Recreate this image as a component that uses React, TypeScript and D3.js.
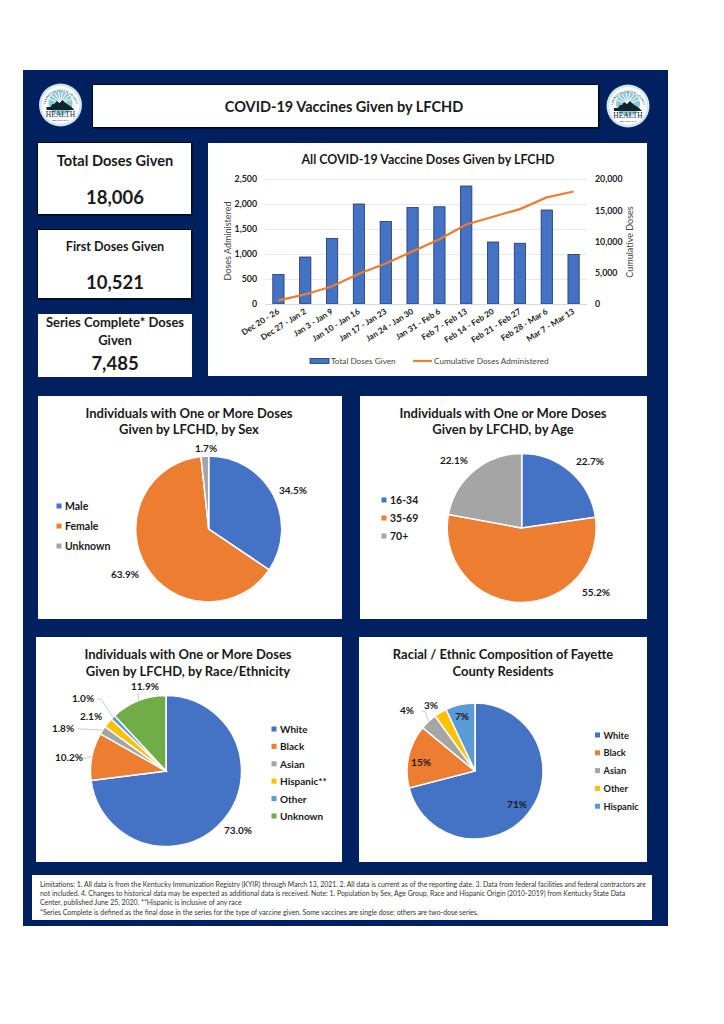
import * as d3 from 'd3';
import React, { useEffect, useRef } from 'react';

const weeks = ['Dec 20 - 26', 'Dec 27 - Jan 2', 'Jan 3 - Jan 9', 'Jan 10 - Jan 16', 'Jan 17 - Jan 23', 'Jan 24 - Jan 30', 'Jan 31 - Feb 6', 'Feb 7 - Feb 13', 'Feb 14 - Feb 20', 'Feb 21 - Feb 27', 'Feb 28 - Mar 6', 'Mar 7 - Mar 13'];
const weeklyDoses = [590, 940, 1310, 2000, 1650, 1930, 1945, 2360, 1240, 1215, 1880, 990];
const cumulativeDoses = [590, 1530, 2840, 4840, 6490, 8420, 10365, 12725, 13965, 15180, 17060, 18006];

const sexCats = ['Male', 'Female', 'Unknown'];
const sexVals = [34.5, 63.9, 1.7];
const ageCats = ['16-34', '35-69', '70+'];
const ageVals = [22.7, 55.2, 22.1];
const raceCats = ['White', 'Black', 'Asian', 'Hispanic**', 'Other', 'Unknown'];
const raceVals = [73.0, 10.2, 1.8, 2.1, 1.0, 11.9];
const fayetteCats = ['White', 'Black', 'Asian', 'Other', 'Hispanic'];
const fayetteVals = [71, 15, 4, 3, 7];

const NAVY = '#002060';
const FONT = 'Lato, sans-serif';
const office = ['#4472C4', '#ED7D31', '#A5A5A5', '#FFC000', '#5B9BD5', '#70AD47'];
const fayetteColors = ['#4472C4', '#ED7D31', '#A5A5A5', '#FFC000', '#5B9BD5'];

type Sel = d3.Selection<any, unknown, null, undefined>;

function box(svg: Sel, x: number, y: number, w: number, h: number, shadow = false) {
  if (shadow) svg.append('rect').attr('x', x - 1).attr('y', y - 1).attr('width', w + 2.5).attr('height', h + 2.5).attr('fill', '#000814');
  svg.append('rect').attr('x', x).attr('y', y).attr('width', w).attr('height', h).attr('fill', '#fff');
}

function label(svg: Sel, s: string, x: number, y: number, size: number, weight = 700, anchor = 'middle', fill = '#1a1a1a') {
  return svg.append('text').attr('x', x).attr('y', y).attr('text-anchor', anchor)
    .attr('dominant-baseline', 'central')
    .attr('font-family', FONT).attr('font-size', size).attr('font-weight', weight).attr('fill', fill).text(s);
}

function logo(svg: Sel, cx: number, cy: number, id: string) {
  const g = svg.append('g').attr('transform', `translate(${cx},${cy})`);
  g.append('circle').attr('r', 21.5).attr('fill', '#cfe6ee');
  g.append('circle').attr('r', 19).attr('fill', '#fff');
  g.append('circle').attr('r', 12).attr('cy', -2).attr('fill', '#8ccbd6');
  d3.range(-70, 71, 20).forEach(a => {
    g.append('line').attr('x1', 0).attr('y1', -2).attr('x2', 12 * Math.sin(a * Math.PI / 180)).attr('y2', -2 - 12 * Math.cos(a * Math.PI / 180))
      .attr('stroke', '#fff').attr('stroke-width', 1);
  });
  g.append('path').attr('id', id).attr('d', 'M-15.5 2 A15.5 15.5 0 0 1 15.5 2').attr('fill', 'none');
  g.append('text').attr('font-family', FONT).attr('font-size', 2.9).attr('font-weight', 700).attr('fill', '#3a6d80')
    .append('textPath').attr('href', `#${id}`).attr('startOffset', '50%').attr('text-anchor', 'middle').text('LEXINGTON FAYETTE COUNTY');
  g.append('path').attr('d', 'M-14 5 L-14 2 L-10 2 L-8 -1 L-6 -1 L-4 -4 L-1 -2 L2 -5 L5 -2 L8 0 L11 2 L14 5 Z').attr('fill', '#10222b');
  g.append('text').attr('y', 12).attr('text-anchor', 'middle').attr('font-family', 'Liberation Serif, serif').attr('font-size', 7.5).attr('fill', '#223').text('HEALTH');
  g.append('text').attr('y', 16).attr('text-anchor', 'middle').attr('font-family', FONT).attr('font-size', 2.5).attr('fill', '#223').text('DEPARTMENT');
}

interface PieOpts {
  cats: string[]; vals: number[]; colors: string[]; decimals: number;
  cx: number; cy: number; r: number;
  title: string[]; titleX: number; titleY: number;
  legendX: number; legendY: number; legendStep: number; legendSize: number;
  labelAt: [number, number][]; leaders?: (string | null)[];
}

function drawPie(svg: Sel, o: PieOpts) {
  const g = svg.append('g').attr('transform', `translate(${o.cx},${o.cy})`);
  const arcs = d3.pie<number>().sort(null)(o.vals);
  const arc = d3.arc<d3.PieArcDatum<number>>().innerRadius(0).outerRadius(o.r);
  const edge = d3.arc<d3.PieArcDatum<number>>().innerRadius(o.r).outerRadius(o.r);
  g.selectAll('path.slice').data(arcs).enter().append('path')
    .attr('class', 'slice')
    .attr('d', arc)
    .attr('fill', (_d, i) => o.colors[i])
    .attr('stroke', '#fff').attr('stroke-width', 1.5);

  o.title.forEach((t, i) => label(svg, t, o.titleX, o.titleY + i * 16.7, 13));

  arcs.forEach((a, i) => {
    const [lx, ly] = o.labelAt[i];
    const kind = o.leaders ? o.leaders[i] : null;
    if (kind) {
      const [ex, ey] = edge.centroid(a);
      const tx = ex + o.cx;
      const ty = ey + o.cy;
      const pts = kind === 'below'
        ? `${lx - 7},${ly + 7} ${tx},${ty}`
        : `${lx + 14},${ly + 1} ${lx + 18},${ly + 1} ${tx},${ty}`;
      svg.append('polyline').attr('points', pts)
        .attr('fill', 'none').attr('stroke', '#bfbfbf').attr('stroke-width', 0.8);
    }
    const v = o.decimals ? o.vals[i].toFixed(o.decimals) : String(o.vals[i]);
    label(svg, `${v}%`, lx, ly, 10);
  });

  o.cats.forEach((c, i) => {
    const y = o.legendY + i * o.legendStep;
    svg.append('rect').attr('x', o.legendX).attr('y', y - 2.5).attr('width', 5).attr('height', 5).attr('fill', o.colors[i]);
    label(svg, c, o.legendX + 8.5, y, o.legendSize, 700, 'start');
  });
}

const App: React.FC = () => {
  const ref = useRef<SVGSVGElement | null>(null);

  useEffect(() => {
    const svg = d3.select(ref.current) as unknown as Sel;
    svg.selectAll('*').remove();

    svg.append('rect').attr('width', 724).attr('height', 1024).attr('fill', '#fff');
    svg.append('rect').attr('x', 23).attr('y', 70).attr('width', 645).attr('height', 856).attr('fill', NAVY);

    // header
    logo(svg, 60.5, 105, 'logoArcL');
    logo(svg, 628, 106, 'logoArcR');
    box(svg, 93, 85, 505, 42, true);
    label(svg, 'COVID-19 Vaccines Given by LFCHD', 344, 106, 14.5);

    // number cards
    box(svg, 38, 143, 153, 71, true);
    label(svg, 'Total Doses Given', 115, 160, 14.6);
    label(svg, '18,006', 115, 197, 18.5);
    box(svg, 38, 230, 153, 68, true);
    label(svg, 'First Doses Given', 115, 246, 12.6);
    label(svg, '10,521', 115, 282, 18.5);
    box(svg, 38, 314, 154, 63);
    label(svg, 'Series Complete* Doses', 115, 322, 13);
    label(svg, 'Given', 115, 340, 13);
    label(svg, '7,485', 115, 363, 18.5);

    // weekly doses + cumulative line
    box(svg, 208, 143, 439, 233);
    label(svg, 'All COVID-19 Vaccine Doses Given by LFCHD', 428, 159, 12.4);

    const x = d3.scaleBand<string>().domain(weeks).range([265, 587]).paddingInner(0.58).paddingOuter(0.29);
    const yL = d3.scaleLinear().domain([0, 2500]).range([304, 179]);
    const yR = d3.scaleLinear().domain([0, 20000]).range([304, 179]);

    const gridAxis = svg.append('g').attr('transform', 'translate(265,0)')
      .call(d3.axisLeft(yL).tickValues([0, 500, 1000, 1500, 2000, 2500]).tickSize(-322).tickFormat(d3.format(',') as any));
    gridAxis.select('.domain').remove();
    gridAxis.selectAll('.tick line').attr('stroke', '#e3e3e3').attr('stroke-width', 0.8);
    gridAxis.selectAll('.tick text').attr('x', -8).attr('font-family', FONT).attr('font-size', 8.8).attr('font-weight', 700).attr('fill', '#222');

    const rightAxis = svg.append('g').attr('transform', 'translate(587,0)')
      .call(d3.axisRight(yR).tickValues([0, 5000, 10000, 15000, 20000]).tickSize(0).tickFormat(d3.format(',') as any));
    rightAxis.select('.domain').remove();
    rightAxis.selectAll('.tick text').attr('x', 8).attr('font-family', FONT).attr('font-size', 8.8).attr('font-weight', 700).attr('fill', '#222');

    svg.append('g').selectAll('rect').data(weeklyDoses).enter().append('rect')
      .attr('x', (_d, i) => x(weeks[i]) as number)
      .attr('y', d => yL(d))
      .attr('width', x.bandwidth())
      .attr('height', d => 304 - yL(d))
      .attr('fill', '#4472C4').attr('stroke', '#203864').attr('stroke-width', 0.8);

    const line = d3.line<number>()
      .x((_d, i) => (x(weeks[i]) as number) + x.bandwidth() / 2)
      .y(d => yR(d));
    svg.append('path').attr('d', line(cumulativeDoses)).attr('fill', 'none').attr('stroke', '#ED7D31').attr('stroke-width', 2.2);

    const bottomAxis = svg.append('g').attr('transform', 'translate(0,304)').call(d3.axisBottom(x).tickSize(0));
    bottomAxis.select('.domain').attr('stroke', '#d9d9d9');
    bottomAxis.selectAll('.tick text')
      .attr('font-family', FONT).attr('font-size', 8.2).attr('font-weight', 700).attr('fill', '#222')
      .attr('text-anchor', 'end').attr('dy', '0.3em').attr('x', -3.5).attr('y', 6)
      .attr('transform', 'rotate(-32)');

    label(svg, 'Doses Administered', 227, 241, 9, 400, 'middle', '#444').attr('transform', 'rotate(-90,227,241)');
    label(svg, 'Cumulative Doses', 629, 242, 9, 400, 'middle', '#444').attr('transform', 'rotate(-90,629,242)');

    svg.append('rect').attr('x', 310).attr('y', 358.5).attr('width', 19).attr('height', 5).attr('fill', '#4472C4').attr('stroke', '#203864').attr('stroke-width', 0.8);
    label(svg, 'Total Doses Given', 331, 361, 8.2, 400, 'start', '#444');
    svg.append('line').attr('x1', 413).attr('x2', 432).attr('y1', 361).attr('y2', 361).attr('stroke', '#ED7D31').attr('stroke-width', 2.2);
    label(svg, 'Cumulative Doses Administered', 434, 361, 8.2, 400, 'start', '#444');

    // pies
    box(svg, 38, 396, 304, 223);
    box(svg, 360, 396, 287, 223);
    box(svg, 36, 637, 306, 225);
    box(svg, 359, 637, 288, 225);

    drawPie(svg, {
      cats: sexCats, vals: sexVals, colors: office, decimals: 1,
      cx: 208.7, cy: 529, r: 73,
      title: ['Individuals with One or More Doses', 'Given by LFCHD, by Sex'], titleX: 189, titleY: 412.5,
      legendX: 56.5, legendY: 506, legendStep: 20, legendSize: 10.5,
      labelAt: [[293, 490], [125, 574], [206, 448]],
    });
    drawPie(svg, {
      cats: ageCats, vals: ageVals, colors: office, decimals: 1,
      cx: 521.7, cy: 528, r: 74.5,
      title: ['Individuals with One or More Doses', 'Given by LFCHD, by Age'], titleX: 503, titleY: 412.5,
      legendX: 381.5, legendY: 500, legendStep: 18, legendSize: 10.5,
      labelAt: [[590, 461], [596, 592], [454, 460]],
    });
    drawPie(svg, {
      cats: raceCats, vals: raceVals, colors: office, decimals: 1,
      cx: 166, cy: 771, r: 75.5,
      title: ['Individuals with One or More Doses', 'Given by LFCHD, by Race/Ethnicity'], titleX: 188, titleY: 654,
      legendX: 271.5, legendY: 729, legendStep: 17.4, legendSize: 10,
      labelAt: [[238, 830], [69, 757], [63, 728], [91, 716], [83, 698], [145, 686]],
      leaders: [null, 'side', 'side', null, 'side', 'below'],
    });
    drawPie(svg, {
      cats: fayetteCats, vals: fayetteVals, colors: fayetteColors, decimals: 0,
      cx: 475, cy: 771, r: 68,
      title: ['Racial / Ethnic Composition of Fayette', 'County Residents'], titleX: 503, titleY: 654,
      legendX: 595, legendY: 735, legendStep: 17.8, legendSize: 9.2,
      labelAt: [[517, 804], [421, 762], [407, 710], [431, 705], [462, 716]],
      leaders: [null, null, 'side', null, null],
    });

    // footnote
    box(svg, 32, 875, 620, 45);
    [
      'Limitations: 1. All data is from the Kentucky Immunization Registry (KYIR) through March 13, 2021. 2. All data is current as of the reporting date. 3. Data from federal facilities and federal contractors are',
      'not included. 4. Changes to historical data may be expected as additional data is received. Note: 1. Population by Sex, Age Group, Race and Hispanic Origin (2010-2019) from Kentucky State Data',
      'Center, published June 25, 2020. **Hispanic is inclusive of any race',
      '*Series Complete is defined as the final dose in the series for the type of vaccine given. Some vaccines are single dose; others are two-dose series.',
    ].forEach((t, i) => label(svg, t, 40, 884 + i * 9.2, 6.9, 400, 'start', '#333'));
  }, []);

  return <svg ref={ref} width={724} height={1024} style={{ position: 'absolute', left: 0, top: 0 }} />;
};

export default App;
